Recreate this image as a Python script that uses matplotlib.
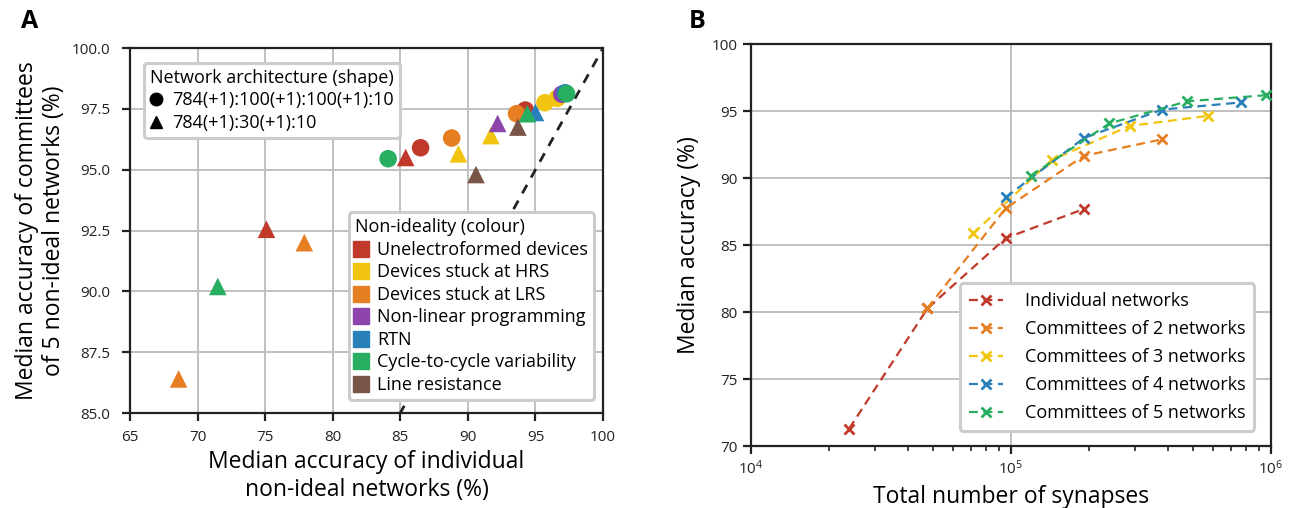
import numpy as np
import matplotlib
matplotlib.use("Agg")
import matplotlib.pyplot as plt
from matplotlib.lines import Line2D

plt.rcParams['font.family'] = ['Open Sans', 'DejaVu Sans']

# ---- panel A data: (individual accuracy, committee accuracy) ----
nonidealities = ["Unelectroformed devices", "Devices stuck at HRS", "Devices stuck at LRS",
                 "Non-linear programming", "RTN", "Cycle-to-cycle variability", "Line resistance"]
colors = ["#c0392b", "#f1c40f", "#e67e22", "#8e44ad", "#2980b9", "#27ae60", "#795548"]

circle_x = [[86.5, 94.25], [95.7, 96.6], [88.8, 93.6], [96.95], [97.2], [84.1, 97.3], []]
circle_y = [[95.9, 97.45], [97.75, 97.93], [96.3, 97.3], [98.1], [98.16], [95.45, 98.12], []]
triangle_x = [[75.1, 85.4], [89.3, 91.7], [77.9, 68.6], [92.2], [95.0], [71.5, 94.4], [90.6, 93.7]]
triangle_y = [[92.55, 95.5], [95.65, 96.4], [92.0, 86.4], [96.9], [97.35], [90.2, 97.3], [94.8, 96.75]]

# ---- panel B data ----
series_labels = ["Individual networks", "Committees of 2 networks", "Committees of 3 networks",
                 "Committees of 4 networks", "Committees of 5 networks"]
series_colors = ["#c0392b", "#e67e22", "#f1c40f", "#2980b9", "#27ae60"]
base_synapses = [23860, 47720, 95440, 190880]
committee_size = [1, 2, 3, 4, 5]
median_acc = [
    [71.3, 80.27, 85.52, 87.7],
    [80.3, 87.75, 91.67, 92.9],
    [85.87, 91.35, 93.9, 94.65],
    [88.57, 93.0, 95.12, 95.65],
    [90.19, 94.08, 95.74, 96.19],
]

fig = plt.figure(figsize=(12.93, 5.08), dpi=100)
axA = fig.add_axes([0.1005, 0.187, 0.3659, 0.7185])
axB = fig.add_axes([0.5808, 0.122, 0.4022, 0.791])

def style_axes(ax):
    ax.grid(True, color="#c0c0c0", linewidth=1.4, zorder=0)
    ax.set_axisbelow(True)
    for s in ax.spines.values():
        s.set_linewidth(1.6)
        s.set_color("#222222")
    ax.tick_params(direction="out", length=6, width=1.6, labelsize=11, colors="#222222")

def style_legend(leg):
    leg.get_frame().set_edgecolor("#cccccc")
    leg.get_frame().set_linewidth(2.2)

# ---- panel A ----
style_axes(axA)
axA.tick_params(axis="y", pad=8)
axA.tick_params(axis="x", pad=6)
axA.plot([65, 100], [65, 100], linestyle=(0, (3.5, 3)), color="#222222", linewidth=2, zorder=1)
for i in range(len(nonidealities)):
    axA.scatter(circle_x[i], circle_y[i], s=160, marker="o", color=colors[i], edgecolors="none", zorder=3)
    axA.scatter(triangle_x[i], triangle_y[i], s=160, marker="^", color=colors[i], edgecolors="none", zorder=3)
axA.set_xlim(65, 100)
axA.set_ylim(85, 100)
axA.set_xticks(np.arange(65, 101, 5))
axA.set_yticks(np.arange(85, 100.1, 2.5))
axA.set_yticklabels([f"{v:.1f}" for v in np.arange(85, 100.1, 2.5)])
axA.set_xlabel("Median accuracy of individual\nnon-ideal networks (%)", fontsize=16.5, labelpad=4)
axA.set_ylabel("Median accuracy of committees\nof 5 non-ideal networks (%)", fontsize=16.5, labelpad=4)

shape_handles = [Line2D([], [], marker="o", color="black", linestyle="none", markersize=9),
                 Line2D([], [], marker="^", color="black", linestyle="none", markersize=9)]
leg1 = axA.legend(shape_handles, ["784(+1):100(+1):100(+1):10", "784(+1):30(+1):10"],
                  title="Network architecture (shape)", loc="upper left", bbox_to_anchor=(0.01, 0.985),
                  fontsize=13, title_fontsize=13, alignment="left", handlelength=0.7,
                  handletextpad=0.5, borderpad=0.35, labelspacing=0.25, fancybox=True, framealpha=1)
style_legend(leg1)
axA.add_artist(leg1)

color_handles = [Line2D([], [], marker="s", color=c, linestyle="none", markersize=11) for c in colors]
leg2 = axA.legend(color_handles, nonidealities, title="Non-ideality (colour)", loc="lower right",
                  bbox_to_anchor=(1.0, 0.01), fontsize=13, title_fontsize=13, alignment="left",
                  handlelength=0.7, handletextpad=0.5, borderpad=0.35, labelspacing=0.25,
                  fancybox=True, framealpha=1)
style_legend(leg2)

# ---- panel B ----
style_axes(axB)
for k, lab, c, acc in zip(committee_size, series_labels, series_colors, median_acc):
    xs = [k * b for b in base_synapses]
    axB.plot(xs, acc, linestyle=(0, (4, 2.5)), color=c, linewidth=1.6, marker="x",
             markersize=7, markeredgewidth=2, label=lab, zorder=3)
axB.set_xscale("log")
axB.set_xlim(1e4, 1e6)
axB.set_ylim(70, 100)
axB.set_yticks(np.arange(70, 101, 5))
axB.tick_params(which="minor", direction="out", length=3.5, width=1.2, colors="#222222")
axB.grid(False, which="minor")
axB.set_xlabel("Total number of synapses", fontsize=16.5, labelpad=5)
axB.set_ylabel("Median accuracy (%)", fontsize=16.5, labelpad=8)
legB = axB.legend(loc="lower right", bbox_to_anchor=(0.985, 0.015), fontsize=13, handlelength=1.9,
                  handletextpad=1.2, borderpad=0.5, labelspacing=0.55, fancybox=True, framealpha=1)
style_legend(legB)

fig.text(0.016, 0.945, "A", fontsize=18, fontweight="bold")
fig.text(0.533, 0.945, "B", fontsize=18, fontweight="bold")

fig.savefig("out.png", dpi=100)
